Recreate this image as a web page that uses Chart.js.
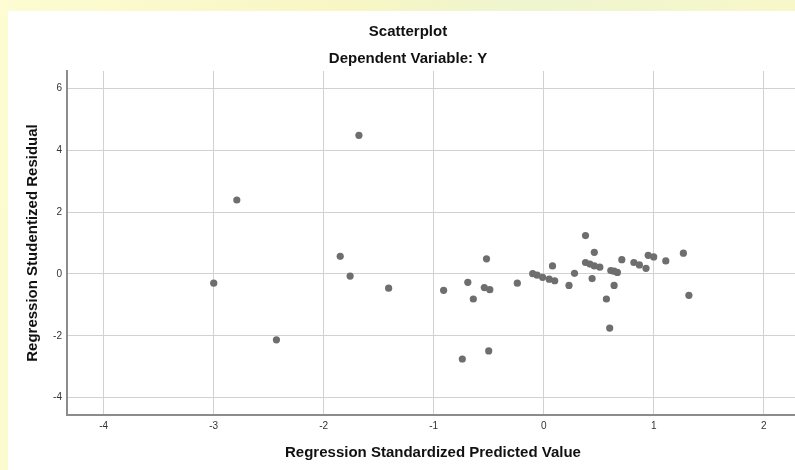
<!DOCTYPE html>
<html>
<head>
<meta charset="utf-8">
<script src="https://cdn.jsdelivr.net/npm/chart.js@4.4.1/dist/chart.umd.min.js"></script>
<style>
  html, body { margin: 0; padding: 0; width: 795px; height: 470px; overflow: hidden; }
  body { background: linear-gradient(100deg, #fdfcd2 0%, #f8f6c4 40%, #eef5cf 60%, #fbf8c8 100%); position: relative; }
  #panel { position: absolute; left: 8px; top: 11px; width: 800px; height: 459px; background: #ffffff; }
  #wrap { position: absolute; left: 8px; top: 11px; width: 800px; height: 459px; }
</style>
</head>
<body>
<div id="panel"></div>
<div id="wrap"><canvas id="c"></canvas></div>
<script>
const chartTitle = "Scatterplot";
const chartSubtitle = "Dependent Variable: Y";
const xAxisTitle = "Regression Standardized Predicted Value";
const yAxisTitle = "Regression Studentized Residual";
const xTicks = [-4, -3, -2, -1, 0, 1, 2];
const yTicks = [-4, -2, 0, 2, 4, 6];
const xValues = [-3.00, -2.79, -2.43, -1.85, -1.76, -1.68, -1.41, -0.91, -0.74, -0.69,
                 -0.64, -0.52, -0.54, -0.50, -0.49, -0.24, -0.10, -0.06, -0.01, 0.05,
                 0.10, 0.08, 0.23, 0.28, 0.38, 0.38, 0.42, 0.46, 0.46, 0.51,
                 0.44, 0.57, 0.60, 0.61, 0.64, 0.67, 0.64, 0.71, 0.82, 0.87,
                 0.93, 0.95, 1.00, 1.11, 1.27, 1.32];
const yValues = [-0.30, 2.39, -2.13, 0.57, -0.07, 4.48, -0.46, -0.53, -2.75, -0.27,
                 -0.81, 0.49, -0.44, -2.49, -0.51, -0.30, 0.01, -0.04, -0.11, -0.17,
                 -0.22, 0.26, -0.37, 0.02, 1.24, 0.37, 0.32, 0.70, 0.26, 0.22,
                 -0.15, -0.81, -1.75, 0.11, 0.09, 0.05, -0.37, 0.46, 0.37, 0.29,
                 0.18, 0.60, 0.55, 0.42, 0.67, -0.69];

const points = xValues.map((x, i) => ({ x: x, y: yValues[i] }));
const FONT = "'Liberation Sans', Arial, sans-serif";

new Chart(document.getElementById('c'), {
  type: 'scatter',
  data: {
    datasets: [{
      data: points,
      backgroundColor: '#6e6e6e',
      borderWidth: 0,
      pointRadius: 3.6,
      pointHoverRadius: 3.6
    }]
  },
  options: {
    responsive: true,
    maintainAspectRatio: false,
    animation: false,
    events: [],
    layout: { padding: { left: 9, right: 9, top: 0, bottom: 0 } },
    plugins: {
      legend: { display: false },
      tooltip: { enabled: false },
      title: {
        display: true,
        text: chartTitle,
        color: '#111',
        font: { family: FONT, size: 15, weight: 'bold', lineHeight: 1.2 },
        padding: { top: 11.5, bottom: 0 }
      },
      subtitle: {
        display: true,
        text: chartSubtitle,
        color: '#111',
        font: { family: FONT, size: 15, weight: 'bold', lineHeight: 1.2 },
        padding: { top: 9.3, bottom: 3.2 }
      }
    },
    scales: {
      x: {
        type: 'linear',
        position: 'bottom',
        min: -4.334,
        max: 2.321,
        afterBuildTicks: (s) => { s.ticks = xTicks.map(v => ({ value: v })); },
        afterFit: (s) => { s.height = 55; },
        grid: { color: '#d2d2d2', lineWidth: 1, drawTicks: false },
        border: { display: true, color: '#8c8c8c', width: 2 },
        ticks: { color: '#333', font: { family: FONT, size: 10 }, padding: 5, maxRotation: 0 },
        title: {
          display: true,
          text: xAxisTitle,
          color: '#111',
          font: { family: FONT, size: 15, weight: 'bold', lineHeight: 1.2 },
          padding: { top: 0, bottom: 8 }
        }
      },
      y: {
        type: 'linear',
        position: 'left',
        min: -4.56,
        max: 6.56,
        afterBuildTicks: (s) => { s.ticks = yTicks.map(v => ({ value: v })); },
        afterFit: (s) => { s.width = 50; },
        grid: { color: '#d2d2d2', lineWidth: 1, drawTicks: false },
        border: { display: true, color: '#8c8c8c', width: 2 },
        ticks: { color: '#333', font: { family: FONT, size: 10 }, padding: 5 },
        title: {
          display: true,
          text: yAxisTitle,
          color: '#111',
          font: { family: FONT, size: 15, weight: 'bold', lineHeight: 1.2 },
          padding: { top: 7, bottom: 0 }
        }
      }
    }
  }
});
</script>
</body>
</html>
